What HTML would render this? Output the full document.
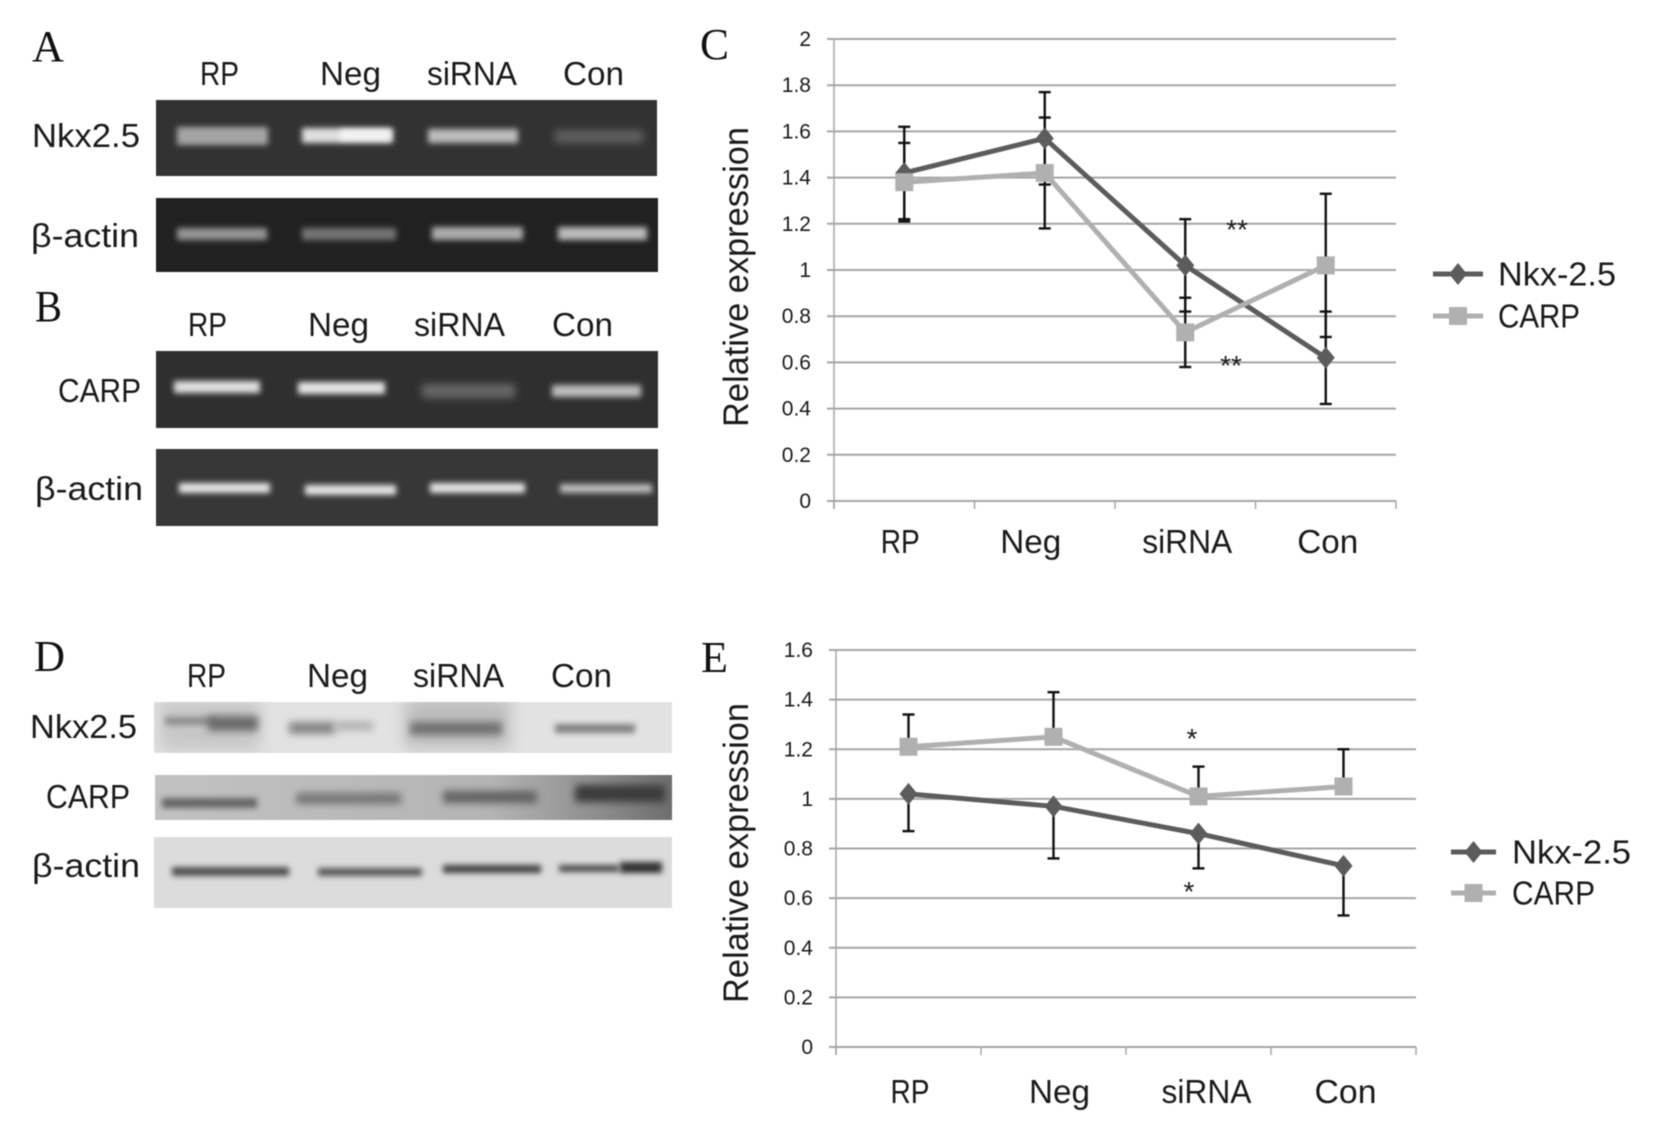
<!DOCTYPE html>
<html lang="en">
<head>
<meta charset="utf-8">
<title>Nkx2.5 and CARP expression</title>
<style>
html,body{margin:0;padding:0;background:#fff;width:1654px;height:1134px;overflow:hidden}
svg{display:block;filter:blur(0.4px)}
text{font-family:"Liberation Sans",sans-serif;fill:#1a1a1a}
.letter{font-family:"Liberation Serif",serif;font-size:44px;fill:#111}
.lab{font-size:33px}
</style>
</head>
<body>
<svg id="fig" xmlns="http://www.w3.org/2000/svg" width="1654" height="1134" viewBox="0 0 1654 1134">
<defs>
<filter id="b2" x="-20%" y="-200%" width="140%" height="500%"><feGaussianBlur stdDeviation="2.8"/></filter>
<filter id="b3" x="-20%" y="-200%" width="140%" height="500%"><feGaussianBlur stdDeviation="4"/></filter>
<filter id="b8" x="-30%" y="-60%" width="160%" height="220%"><feGaussianBlur stdDeviation="8"/></filter>
<linearGradient id="carpBg" x1="0" x2="1" y1="0" y2="0">
<stop offset="0" stop-color="#c2c2c2"/><stop offset="0.65" stop-color="#b4b4b4"/><stop offset="0.85" stop-color="#8f8f8f"/><stop offset="1" stop-color="#6e6e6e"/>
</linearGradient>
<clipPath id="clipDnkx"><rect x="154" y="702" width="518" height="51"/></clipPath>
<clipPath id="clipDcarp"><rect x="155" y="775" width="517" height="45"/></clipPath>
</defs>

<text class="letter" x="32" y="61" textLength="32" lengthAdjust="spacingAndGlyphs">A</text>
<g>
<text class="lab" x="200" y="85" textLength="39" lengthAdjust="spacingAndGlyphs">RP</text>
<text class="lab" x="320" y="85" textLength="61" lengthAdjust="spacingAndGlyphs">Neg</text>
<text class="lab" x="427" y="85" textLength="90" lengthAdjust="spacingAndGlyphs">siRNA</text>
<text class="lab" x="563" y="85" textLength="61" lengthAdjust="spacingAndGlyphs">Con</text>
</g>
<text class="lab" x="32" y="147" textLength="108" lengthAdjust="spacingAndGlyphs">Nkx2.5</text>
<text class="lab" x="31" y="247" textLength="108" lengthAdjust="spacingAndGlyphs">β-actin</text>

<g>
<rect x="156" y="100" width="501" height="76" fill="#323232"/>
<rect x="177" y="127" width="91" height="18" fill="#a4a4a4" filter="url(#b2)"/>
<rect x="302" y="128" width="91" height="15" fill="#e0e0e0" filter="url(#b2)"/>
<rect x="340" y="130" width="50" height="10" fill="#f4f4f4" filter="url(#b2)"/>
<rect x="428" y="129" width="90" height="14" fill="#bcbcbc" filter="url(#b2)"/>
<rect x="555" y="130" width="88" height="13" fill="#5e5e5e" filter="url(#b3)"/>
</g>
<g>
<rect x="156" y="198" width="502" height="74" fill="#212121"/>
<rect x="177" y="228" width="90" height="12" fill="#949494" filter="url(#b2)"/>
<rect x="302" y="228" width="94" height="12" fill="#747474" filter="url(#b2)"/>
<rect x="432" y="227" width="91" height="13" fill="#adadad" filter="url(#b2)"/>
<rect x="558" y="227" width="89" height="13" fill="#bbbbbb" filter="url(#b2)"/>
</g>

<text class="letter" x="35" y="321" textLength="27" lengthAdjust="spacingAndGlyphs">B</text>
<g>
<text class="lab" x="188" y="336" textLength="39" lengthAdjust="spacingAndGlyphs">RP</text>
<text class="lab" x="308" y="336" textLength="61" lengthAdjust="spacingAndGlyphs">Neg</text>
<text class="lab" x="414" y="336" textLength="91" lengthAdjust="spacingAndGlyphs">siRNA</text>
<text class="lab" x="552" y="336" textLength="61" lengthAdjust="spacingAndGlyphs">Con</text>
</g>
<text class="lab" x="58" y="402" textLength="83" lengthAdjust="spacingAndGlyphs">CARP</text>
<text class="lab" x="35" y="500" textLength="108" lengthAdjust="spacingAndGlyphs">β-actin</text>

<g>
<rect x="156" y="351" width="502" height="77" fill="#2f2f2f"/>
<rect x="174" y="381" width="86" height="12" fill="#e0e0e0" filter="url(#b2)"/>
<rect x="298" y="382" width="87" height="12" fill="#e6e6e6" filter="url(#b2)"/>
<rect x="422" y="384" width="93" height="14" fill="#666666" filter="url(#b3)"/>
<rect x="552" y="385" width="89" height="12" fill="#bcbcbc" filter="url(#b2)"/>
</g>
<g>
<rect x="156" y="449" width="502" height="77" fill="#373737"/>
<rect x="179" y="483" width="91" height="10" fill="#e6e6e6" filter="url(#b2)"/>
<rect x="305" y="485" width="91" height="10" fill="#e6e6e6" filter="url(#b2)"/>
<rect x="430" y="483" width="95" height="10" fill="#e4e4e4" filter="url(#b2)"/>
<rect x="560" y="484" width="92" height="9" fill="#bcbcbc" filter="url(#b2)"/>
</g>

<text class="letter" x="34" y="671" textLength="31" lengthAdjust="spacingAndGlyphs">D</text>
<g>
<text class="lab" x="187" y="687" textLength="39" lengthAdjust="spacingAndGlyphs">RP</text>
<text class="lab" x="307" y="687" textLength="61" lengthAdjust="spacingAndGlyphs">Neg</text>
<text class="lab" x="413" y="687" textLength="91" lengthAdjust="spacingAndGlyphs">siRNA</text>
<text class="lab" x="551" y="687" textLength="61" lengthAdjust="spacingAndGlyphs">Con</text>
</g>
<text class="lab" x="30" y="738" textLength="107" lengthAdjust="spacingAndGlyphs">Nkx2.5</text>
<text class="lab" x="46" y="808" textLength="84" lengthAdjust="spacingAndGlyphs">CARP</text>
<text class="lab" x="32" y="877" textLength="108" lengthAdjust="spacingAndGlyphs">β-actin</text>

<g>
<rect x="154" y="702" width="518" height="51" fill="#e2e2e2"/>
<g clip-path="url(#clipDnkx)">
<rect x="160" y="700" width="100" height="50" fill="#c6c6c6" filter="url(#b8)"/>
<rect x="405" y="698" width="105" height="50" fill="#bdbdbd" filter="url(#b8)"/>
</g>
<rect x="165" y="717" width="50" height="8" fill="#8e8e8e" filter="url(#b2)"/>
<rect x="208" y="716" width="50" height="15" fill="#6a6a6a" filter="url(#b3)"/>
<rect x="289" y="722" width="46" height="12" fill="#848484" filter="url(#b3)"/>
<rect x="335" y="722" width="38" height="8" fill="#acacac" filter="url(#b3)"/>
<rect x="410" y="722" width="92" height="13" fill="#707070" filter="url(#b3)"/>
<rect x="555" y="724" width="80" height="9" fill="#808080" filter="url(#b2)"/>
</g>
<g>
<rect x="155" y="775" width="517" height="45" fill="url(#carpBg)"/>
<rect x="162" y="798" width="95" height="10" fill="#666" filter="url(#b2)"/>
<rect x="296" y="793" width="105" height="11" fill="#747474" filter="url(#b3)"/>
<rect x="443" y="791" width="94" height="12" fill="#606060" filter="url(#b3)"/>
<rect x="575" y="785" width="90" height="17" fill="#3a3a3a" filter="url(#b3)"/>
</g>
<g>
<rect x="154" y="837" width="518" height="71" fill="#dcdcdc"/>
<rect x="172" y="867" width="117" height="9" fill="#505050" filter="url(#b2)"/>
<rect x="318" y="868" width="104" height="8" fill="#585858" filter="url(#b2)"/>
<rect x="443" y="865" width="98" height="8" fill="#404040" filter="url(#b2)"/>
<rect x="559" y="865" width="60" height="7" fill="#4c4c4c" filter="url(#b2)"/>
<rect x="620" y="862" width="42" height="11" fill="#333" filter="url(#b2)"/>
</g>

<text class="letter" x="700" y="59" textLength="29" lengthAdjust="spacingAndGlyphs">C</text>
<text class="letter" x="701" y="672" textLength="27" lengthAdjust="spacingAndGlyphs">E</text>
<g id="chartC"></g>
<g id="chartE"></g>
</svg>

<script>
// Shared categories
var categories = ["RP", "Neg", "siRNA", "Con"];

// Panel C values
var cTicks = [0, 0.2, 0.4, 0.6, 0.8, 1, 1.2, 1.4, 1.6, 1.8, 2];
var cNkx = [1.42, 1.57, 1.02, 0.62];
var cNkxUpper = [1.62, 1.77, 1.22, 0.82];
var cNkxLower = [1.22, 1.37, 0.82, 0.42];
var cCarp = [1.38, 1.42, 0.73, 1.02];
var cCarpUpper = [1.55, 1.66, 0.88, 1.33];
var cCarpLower = [1.21, 1.18, 0.58, 0.71];

// Panel E values
var eTicks = [0, 0.2, 0.4, 0.6, 0.8, 1, 1.2, 1.4, 1.6];
var eNkx = [1.02, 0.97, 0.86, 0.73];
var eNkxLower = [0.87, 0.76, 0.72, 0.53];
var eCarp = [1.21, 1.25, 1.01, 1.05];
var eCarpUpper = [1.34, 1.43, 1.13, 1.2];

var NS = "http://www.w3.org/2000/svg";
var NKX_COLOR = "#5c5c5c";
var CARP_COLOR = "#b0b0b0";

function mk(parent, tag, attrs, txt) {
  var el = document.createElementNS(NS, tag);
  for (var k in attrs) { el.setAttribute(k, attrs[k]); }
  if (txt !== undefined) { el.textContent = txt; }
  parent.appendChild(el);
  return el;
}

function drawChart(root, cfg) {
  var yMax = cfg.ticks[cfg.ticks.length - 1];
  var band = (cfg.right - cfg.left) / categories.length;
  function xAt(i) { return cfg.left + band * (i + 0.5); }
  function yAt(v) { return cfg.bottom - (v / yMax) * (cfg.bottom - cfg.top); }

  cfg.ticks.forEach(function (t) {
    var g = mk(root, "line", { x1: cfg.left - 7, x2: cfg.right, y1: yAt(t), y2: yAt(t), stroke: "#a6a6a6", "stroke-width": 2 });
    
    
    var l = mk(root, "text", { x: cfg.left - 23, y: yAt(t) + 7, "text-anchor": "end", "font-size": 21, fill: "#222" }, String(t));
    
    
  });

  var ax = mk(root, "line", { x1: cfg.left, x2: cfg.left, y1: cfg.top, y2: cfg.bottom + 8, stroke: "#a6a6a6", "stroke-width": 1.5 });
  
  

  for (var i = 0; i <= categories.length; i++) {
    var tk = mk(root, "line", { x1: cfg.left + band * i, x2: cfg.left + band * i, y1: cfg.bottom, y2: cfg.bottom + 8, stroke: "#a6a6a6", "stroke-width": 1.5 });
    
    
  }

  categories.forEach(function (c, i) {
    var t = mk(root, "text", { x: xAt(i) + cfg.labelNudge[i], y: cfg.labelY, "text-anchor": "middle", "font-size": 33, textLength: cfg.labelLen[i], lengthAdjust: "spacingAndGlyphs", fill: "#222" }, c);
    
    
  });

  var ty = cfg.titleMid;
  var title = mk(root, "text", { x: 0, y: 0, transform: "translate(748 " + ty + ") rotate(-90)", "text-anchor": "middle", "font-size": 35, textLength: 300, lengthAdjust: "spacingAndGlyphs", fill: "#222" }, "Relative expression");
  
  

  function errorBar(i, v1, v2) {
    var x = xAt(i);
    var s = mk(root, "line", { x1: x, x2: x, y1: yAt(v1), y2: yAt(v2), stroke: "#111", "stroke-width": 2.4 });
    
    
    [v1, v2].forEach(function (v) {
      var cap = mk(root, "line", { x1: x - 6, x2: x + 6, y1: yAt(v), y2: yAt(v), stroke: "#111", "stroke-width": 2.4 });
      
      
    });
  }

  function polyline(vals, color, name) {
    var pts = vals.map(function (v, i) { return xAt(i) + "," + yAt(v); }).join(" ");
    var p = mk(root, "polyline", { points: pts, fill: "none", stroke: color, "stroke-width": 5, "stroke-linejoin": "round" });
    
    
  }

  function diamond(x, y) {
    var d = mk(root, "polygon", { points: x + "," + (y - 11) + " " + (x + 9) + "," + y + " " + x + "," + (y + 11) + " " + (x - 9) + "," + y, fill: NKX_COLOR });
    
    
  }

  function square(x, y) {
    var d = mk(root, "rect", { x: x - 9, y: y - 9, width: 18, height: 18, fill: CARP_COLOR });
    
    
  }

  cfg.nkxUpper.forEach(function (u, i) { errorBar(i, u, cfg.nkxLower[i]); });
  cfg.carpUpper.forEach(function (u, i) { errorBar(i, u, cfg.carpLower[i]); });
  polyline(cfg.nkx, NKX_COLOR, 'nkx-line');
  cfg.nkx.forEach(function (v, i) { diamond(xAt(i), yAt(v)); });
  polyline(cfg.carp, CARP_COLOR, 'carp-line');
  cfg.carp.forEach(function (v, i) { square(xAt(i), yAt(v)); });

  cfg.stars.forEach(function (s) {
    var st = mk(root, "text", { x: s.x, y: s.y, "text-anchor": "middle", "font-size": 28, fill: "#222" }, s.t);
    
    
  });

  var L = cfg.legend;
  var l1 = mk(root, "line", { x1: L.x1, x2: L.x2, y1: L.y1, y2: L.y1, stroke: NKX_COLOR, "stroke-width": 5 });
  
  
  diamond((L.x1 + L.x2) / 2, L.y1);
  var t1 = mk(root, "text", { x: L.tx, y: L.y1 + 11.5, "font-size": 33, textLength: L.w1, lengthAdjust: "spacingAndGlyphs", fill: "#222" }, "Nkx-2.5");
  
  
  var l2 = mk(root, "line", { x1: L.x1, x2: L.x2, y1: L.y2, y2: L.y2, stroke: CARP_COLOR, "stroke-width": 5 });
  
  
  square((L.x1 + L.x2) / 2, L.y2);
  var t2 = mk(root, "text", { x: L.tx, y: L.y2 + 11.5, "font-size": 33, textLength: L.w2, lengthAdjust: "spacingAndGlyphs", fill: "#222" }, "CARP");
  
  
}

drawChart(document.getElementById("chartC"), {
  left: 834, right: 1396, top: 39, bottom: 501,
  ticks: cTicks,
  nkx: cNkx, nkxUpper: cNkxUpper, nkxLower: cNkxLower,
  carp: cCarp, carpUpper: cCarpUpper, carpLower: cCarpLower,
  labelY: 553, labelNudge: [-4, -14, 2, 2], labelLen: [39, 61, 90, 61],
  titleMid: 277,
  stars: [{ x: 1237, y: 239, t: "**" }, { x: 1231, y: 375, t: "**" }],
  legend: { x1: 1433, x2: 1483, y1: 274, y2: 316, tx: 1498, w1: 118, w2: 82 }
});

drawChart(document.getElementById("chartE"), {
  left: 836, right: 1416, top: 650, bottom: 1047,
  ticks: eTicks,
  nkx: eNkx, nkxUpper: eNkx, nkxLower: eNkxLower,
  carp: eCarp, carpUpper: eCarpUpper, carpLower: eCarp,
  labelY: 1103, labelNudge: [1.5, 6, 8, 2], labelLen: [39, 61, 90, 62],
  titleMid: 853,
  stars: [{ x: 1192, y: 748, t: "*" }, { x: 1189, y: 901, t: "*" }],
  legend: { x1: 1451, x2: 1496, y1: 852, y2: 893, tx: 1512, w1: 119, w2: 83 }
});
</script>
</body>
</html>
